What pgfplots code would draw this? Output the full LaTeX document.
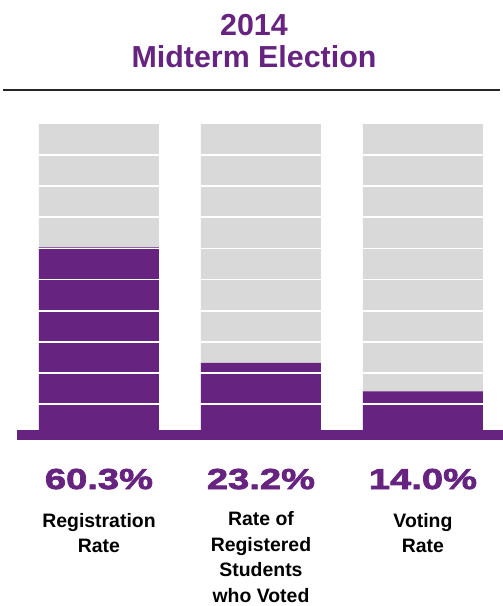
\documentclass[border=0pt]{standalone}
\usepackage{pgfplots}
\pgfplotsset{compat=1.18}
\usepackage{fontspec}
\setmainfont{Liberation Sans}
\newfontfamily\pctfont{Liberation Sans}[FakeStretch=1.32, FakeBold=2.6]
\definecolor{vpurple}{RGB}{102,36,128}
\definecolor{vgray}{RGB}{217,217,217}
\begin{document}
\begin{tikzpicture}
\path[use as bounding box] (0,0) rectangle (503bp,-606bp);
\node[anchor=base, text=vpurple, font=\fontsize{30.5}{32}\selectfont\bfseries] at (254bp,-35bp) {2014};
\node[anchor=base, text=vpurple, font=\fontsize{30.5}{32}\selectfont\bfseries] at (254bp,-67bp) {Midterm Election};
\draw[line width=1.6bp, black!85] (3bp,-90bp) -- (500bp,-90bp);
\begin{axis}[
  at={(17bp,-435bp)}, anchor=south west,
  scale only axis, width=486bp, height=311bp,
  xmin=-0.506, xmax=2.494, ymin=0, ymax=100,
  axis line style={draw=none}, tick style={draw=none},
  xtick=\empty, ytick={10,20,...,90}, yticklabels={},
  ymajorgrids, grid style={white, line width=1.8bp},
  axis on top,
  ybar, bar width=120bp,
  clip=false,
]
\addplot[fill=vgray, draw=none, bar shift=0pt] coordinates {(0,100) (1,100) (2,100)};
\addplot[fill=vpurple, draw=none, bar shift=0pt] coordinates {(0,60.3) (1,23.2) (2,14.0)};
\draw[vpurple, line width=10bp] (axis cs:-0.506,0) -- (axis cs:2.494,0);
\node[anchor=base, text=vpurple, font=\fontsize{29}{32}\pctfont\bfseries, yshift=-54bp] at (axis cs:0,0) {60.3\%};
\node[anchor=base, text=vpurple, font=\fontsize{29}{32}\pctfont\bfseries, yshift=-54bp] at (axis cs:1,0) {23.2\%};
\node[anchor=base, text=vpurple, font=\fontsize{29}{32}\pctfont\bfseries, yshift=-54bp] at (axis cs:2,0) {14.0\%};
\node[anchor=base, align=center, font=\fontsize{19.5}{25.5}\selectfont\bfseries, yshift=-117.5bp] at (axis cs:0,0) {Registration\\Rate};
\node[anchor=base, align=center, font=\fontsize{19.5}{25.5}\selectfont\bfseries, yshift=-167bp] at (axis cs:1,0) {Rate of\\Registered\\Students\\who Voted};
\node[anchor=base, align=center, font=\fontsize{19.5}{25.5}\selectfont\bfseries, yshift=-117.5bp] at (axis cs:2,0) {Voting\\Rate};
\end{axis}
\end{tikzpicture}
\end{document}
